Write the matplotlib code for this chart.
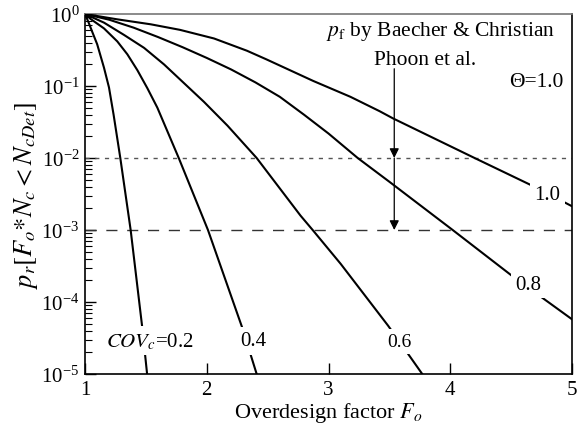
import numpy as np
import matplotlib
matplotlib.use("Agg")
import matplotlib.pyplot as plt
from matplotlib.ticker import LogLocator, LogFormatterMathtext, NullFormatter

plt.rcParams['font.family'] = ['Liberation Serif', 'DejaVu Serif']
plt.rcParams['mathtext.fontset'] = 'stix'

# Data (log10 of probability vs overdesign factor)
cov02_F = [1.0, 1.03, 1.06, 1.10, 1.156, 1.197, 1.235, 1.29, 1.375, 1.47, 1.51]
cov02_logp = [0, -0.12, -0.25, -0.42, -0.746, -1.02, -1.40, -2.0, -3.0, -4.35, -5.0]
cov04_F = [1.0, 1.047, 1.156, 1.265, 1.348, 1.43, 1.512, 1.594, 1.77, 2.01, 2.29, 2.41]
cov04_logp = [0, -0.07, -0.20, -0.38, -0.56, -0.78, -1.03, -1.30, -2.0, -3.0, -4.35, -5.0]
cov06_F = [1.0, 1.156, 1.32, 1.485, 1.649, 1.813, 1.977, 2.17, 2.41, 2.77, 2.87, 3.10, 3.49, 3.67, 3.77]
cov06_logp = [0, -0.12, -0.29, -0.47, -0.70, -0.96, -1.22, -1.55, -2.0, -2.8, -3.0, -3.47, -4.33, -4.76, -5.0]
cov08_F = [1.0, 1.2, 1.4, 1.6, 1.8, 2.0, 2.2, 2.4, 2.6, 2.8, 3.0, 3.24, 3.5, 4.02, 4.51, 5.0]
cov08_logp = [0, -0.08, -0.19, -0.32, -0.46, -0.61, -0.77, -0.95, -1.15, -1.40, -1.66, -2.0, -2.33, -3.0, -3.64, -4.24]
cov10_F = [1.0, 1.265, 1.54, 1.78, 2.06, 2.33, 2.49, 2.875, 3.18, 3.42, 3.53, 4.2, 4.68, 5.0]
cov10_logp = [0, -0.074, -0.143, -0.22, -0.34, -0.51, -0.63, -0.93, -1.15, -1.35, -1.45, -2.0, -2.39, -2.67]

pf_dotted = 1e-2
pf_dashed = 1e-3
arrow_F = 3.54

fig = plt.figure(figsize=(5.85, 4.35), dpi=100)
ax = fig.add_axes([0.1453, 0.1379, 0.8325, 0.8276])

for F, lp in [(cov02_F, cov02_logp), (cov04_F, cov04_logp), (cov06_F, cov06_logp),
              (cov08_F, cov08_logp), (cov10_F, cov10_logp)]:
    ax.plot(F, 10 ** np.array(lp, dtype=float), color='black', lw=1.5, zorder=3,
            solid_joinstyle='round')

ax.axhline(pf_dotted, color='#555555', lw=1.0, ls=(0, (3, 4)), zorder=2)
ax.axhline(pf_dashed, color='#333333', lw=1.0, ls=(0, (8, 7)), zorder=2)

ax.annotate('', xy=(arrow_F, pf_dotted), xytext=(arrow_F, 10 ** -0.76),
            arrowprops=dict(arrowstyle='-|>', color='black', lw=0.9,
                            mutation_scale=14, shrinkA=0, shrinkB=0), zorder=4)
ax.annotate('', xy=(arrow_F, pf_dashed), xytext=(arrow_F, pf_dotted),
            arrowprops=dict(arrowstyle='-|>', color='black', lw=0.9,
                            mutation_scale=14, shrinkA=0, shrinkB=0), zorder=4)

ax.set_yscale('log')
ax.set_xlim(1, 5)
ax.set_ylim(1e-5, 1)
ax.set_xticks([1, 2, 3, 4, 5])
ax.yaxis.set_major_locator(LogLocator(base=10, numticks=10))
ax.yaxis.set_major_formatter(LogFormatterMathtext())
ax.yaxis.set_minor_locator(LogLocator(base=10, subs=np.arange(2, 10), numticks=20))
ax.yaxis.set_minor_formatter(NullFormatter())
ax.tick_params(axis='both', which='major', direction='in', length=8, width=1.0,
               labelsize=15, top=False, right=False, pad=4)
ax.tick_params(axis='y', which='minor', direction='in', length=5, width=0.8, right=False)
ax.tick_params(axis='x', which='minor', bottom=False)

for s in ['left', 'bottom', 'right']:
    ax.spines[s].set_linewidth(1.2)
    ax.spines[s].set_color('black')
ax.spines['top'].set_linewidth(1.2)
ax.spines['top'].set_color('#777777')

ax.set_xlabel(r'Overdesign factor $F_o$', fontsize=16, labelpad=1)
ax.set_ylabel(r'$p_r[F_o{*}N_c{<}N_{cDet}]$', fontsize=19, labelpad=1)

bb = dict(facecolor='white', edgecolor='none', pad=3.0)
ax.text(1.53, 10 ** -4.54, r'$COV_c$=0.2', fontsize=15, ha='center', va='center', bbox=bb, zorder=5)
ax.text(2.38, 10 ** -4.54, '0.4', fontsize=15, ha='center', va='center', bbox=bb, zorder=5)
ax.text(3.58, 10 ** -4.55, '0.6', fontsize=14, ha='center', va='center', bbox=bb, zorder=5)
ax.text(4.64, 10 ** -3.75, '0.8', fontsize=15, ha='center', va='center', bbox=bb, zorder=5)
ax.text(4.80, 10 ** -2.50, '1.0', fontsize=15, ha='center', va='center', bbox=bb, zorder=5)

ax.text(3.92, 10 ** -0.236, r'$p_{\mathrm{f}}$ by Baecher & Christian', fontsize=15.5,
        ha='center', va='center')
ax.text(3.79, 10 ** -0.625, 'Phoon et al.', fontsize=15.5, ha='center', va='center')
ax.text(4.71, 10 ** -0.944, 'Θ=1.0', fontsize=15.5, ha='center', va='center')

fig.savefig('out.png', dpi=100)
